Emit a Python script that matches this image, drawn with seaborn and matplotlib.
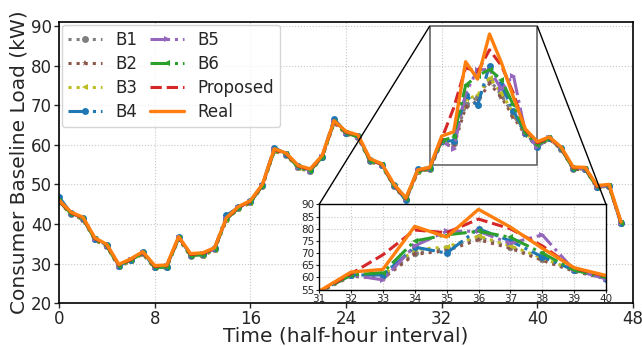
import matplotlib
matplotlib.use("Agg")
import matplotlib.pyplot as plt
import seaborn as sns
from mpl_toolkits.axes_grid1.inset_locator import mark_inset

# Half-hour slots of one day
slots = list(range(48))

# Load profiles (kW)
b1 = [45.7, 42.6, 41.3, 36.1, 34.4, 29.3, 30.8, 32.6, 29.0, 29.1, 36.4, 32.0,
      32.1, 33.6, 41.2, 44.0, 45.5, 49.6, 58.6, 57.5, 54.3, 53.4, 56.9, 65.7,
      62.9, 62.0, 56.0, 54.8, 49.7, 46.2, 53.3, 54.0, 61.0, 60.5, 70.0, 72.0,
      76.5, 72.5, 67.5, 63.0, 60.0, 61.6, 59.0, 54.0, 53.9, 49.3, 49.6, 40.2]
b2 = [45.5, 42.4, 41.1, 35.9, 34.2, 29.1, 30.6, 32.4, 28.8, 28.9, 36.2, 31.8,
      31.9, 33.4, 41.0, 43.8, 45.3, 49.4, 58.4, 57.3, 54.1, 53.2, 56.7, 65.5,
      62.7, 61.8, 55.8, 54.6, 49.5, 46.0, 53.1, 53.8, 60.5, 59.5, 69.5, 71.0,
      75.5, 72.0, 67.0, 62.5, 59.5, 61.4, 58.8, 53.8, 53.7, 49.1, 49.4, 40.0]
b3 = [45.6, 42.5, 41.2, 36.0, 34.3, 29.2, 30.7, 32.5, 28.9, 29.0, 36.3, 31.9,
      32.0, 33.5, 41.1, 43.9, 45.4, 49.5, 58.5, 57.4, 54.2, 53.3, 56.8, 65.6,
      62.8, 61.9, 55.9, 54.7, 49.6, 46.1, 53.2, 53.9, 61.0, 61.0, 71.5, 72.5,
      77.0, 73.0, 68.0, 63.0, 60.0, 61.5, 58.9, 53.9, 53.8, 49.2, 49.5, 40.1]
b4 = [46.8, 42.8, 41.5, 36.3, 34.6, 29.4, 31.0, 32.8, 29.0, 29.2, 36.6, 32.2,
      32.3, 33.8, 42.2, 44.2, 45.7, 49.8, 59.3, 57.7, 54.6, 53.6, 57.0, 66.6,
      63.1, 62.2, 56.2, 55.0, 49.8, 46.0, 53.9, 54.2, 61.0, 61.0, 72.5, 70.0,
      80.0, 75.0, 68.5, 63.0, 59.5, 61.8, 59.1, 54.1, 54.0, 49.4, 49.7, 40.3]
b5 = [45.8, 42.7, 41.4, 36.2, 34.5, 29.5, 31.0, 32.7, 29.1, 29.3, 36.5, 32.1,
      32.3, 33.7, 41.3, 44.1, 45.6, 49.7, 58.7, 57.6, 54.4, 53.5, 57.0, 65.8,
      63.0, 62.1, 56.1, 54.9, 49.8, 46.3, 53.4, 54.0, 61.0, 59.0, 73.0, 79.0,
      79.0, 74.0, 77.5, 63.0, 59.5, 61.7, 59.1, 54.1, 53.9, 49.4, 49.6, 40.2]
b6 = [45.7, 42.6, 41.3, 36.1, 34.4, 29.3, 30.9, 32.6, 29.0, 29.1, 36.4, 32.0,
      32.2, 33.6, 41.2, 44.0, 45.5, 49.6, 58.6, 57.6, 54.3, 53.4, 56.9, 65.8,
      63.0, 62.0, 56.0, 54.8, 49.7, 46.3, 53.3, 54.0, 61.0, 62.0, 75.0, 77.5,
      79.0, 76.5, 70.0, 63.0, 60.0, 61.6, 59.0, 54.0, 53.9, 49.3, 49.6, 40.2]
proposed = [45.8, 42.8, 41.5, 36.3, 34.6, 29.6, 31.0, 32.8, 29.3, 29.4, 36.6, 32.3,
            32.5, 33.8, 41.4, 44.2, 45.7, 49.8, 58.8, 57.7, 54.6, 53.7, 57.1, 65.9,
            63.2, 62.3, 56.3, 55.0, 49.9, 46.4, 53.5, 54.2, 61.5, 69.3, 79.5, 78.4,
            84.0, 80.0, 73.0, 63.8, 60.5, 61.8, 59.2, 54.2, 54.1, 49.5, 49.8, 40.3]
real = [46.0, 43.0, 41.7, 36.5, 34.8, 29.8, 31.2, 33.0, 29.5, 29.6, 36.8, 32.5,
        32.7, 34.0, 41.6, 44.4, 45.9, 50.0, 59.0, 57.9, 54.8, 53.9, 57.3, 66.1,
        63.4, 62.5, 56.5, 55.2, 50.1, 46.6, 53.7, 54.3, 62.2, 63.3, 81.0, 76.6,
        88.0, 80.7, 72.0, 64.0, 60.8, 62.0, 59.4, 54.4, 54.3, 49.7, 50.0, 40.5]

labels = ["B1", "B2", "B3", "B4", "B5", "B6", "Proposed", "Real"]
series = [b1, b2, b3, b4, b5, b6, proposed, real]

main_ticks = [0, 8, 16, 24, 32, 40, 48]
main_yticks = [20, 30, 40, 50, 60, 70, 80, 90]
zoom_ticks = [31, 32, 33, 34, 35, 36, 37, 38, 39, 40]
zoom_yticks = [55, 60, 65, 70, 75, 80, 85, 90]

styles = [
    dict(color="tab:gray", linestyle=":", marker="o", lw=2.2),
    dict(color="tab:brown", linestyle=":", marker="*", lw=2.2),
    dict(color="tab:olive", linestyle=":", marker="<", lw=2.2),
    dict(color="tab:blue", linestyle="-.", marker="o", lw=2.2),
    dict(color="tab:purple", linestyle="-.", marker=">", lw=2.2),
    dict(color="tab:green", linestyle="-.", marker="<", lw=2.2),
    dict(color="tab:red", linestyle="--", marker=None, lw=2.2),
    dict(color="tab:orange", linestyle="-", marker=None, lw=2.4),
]

sns.set_style("white")
plt.rcParams["font.family"] = ["DejaVu Sans"]

fig = plt.figure(figsize=(6.42, 3.46), dpi=100)
ax = fig.add_axes([0.092, 0.124, 0.894, 0.812])

for lab, vals, st in zip(labels, series, styles):
    sns.lineplot(x=slots, y=vals, ax=ax, label=lab, markersize=5,
                 markeredgewidth=0, **st)

ax.set_xlim(0, 48)
ax.set_ylim(20, 91)
ax.set_xticks(main_ticks)
ax.set_yticks(main_yticks)
ax.tick_params(axis="both", labelsize=12, length=3.5, width=1, direction="out",
               left=True, bottom=True, pad=1.5)
ax.grid(True, linestyle=":", color="0.78", lw=0.8)
for sp in ax.spines.values():
    sp.set_color("black")
    sp.set_linewidth(1.2)
ax.set_xlabel("Time (half-hour interval)", fontsize=14.5, labelpad=-1)
ax.set_ylabel("Consumer Baseline Load (kW)", fontsize=14.5, labelpad=2)

ax.legend(loc="upper left", ncol=2, fontsize=12, columnspacing=0.8,
          labelspacing=0.35, handlelength=2.0, handletextpad=0.8,
          borderaxespad=0.15, framealpha=0.8)

# zoomed view of the evening peak
axins = fig.add_axes([0.497, 0.163, 0.447, 0.246])
for vals, st in zip(series, styles):
    sns.lineplot(x=slots, y=vals, ax=axins, markersize=5,
                 markeredgewidth=0, legend=False, **st)
axins.set_xlim(31, 40)
axins.set_ylim(55, 90)
axins.set_xticks(zoom_ticks)
axins.set_yticks(zoom_yticks)
axins.tick_params(axis="both", labelsize=7.5, length=2.5, pad=1,
                  left=True, bottom=True)
axins.grid(True, linestyle=":", color="0.78", lw=0.8)
axins.set_xlabel("")
axins.set_ylabel("")
axins.set_facecolor("white")
for sp in axins.spines.values():
    sp.set_color("black")
    sp.set_linewidth(1.0)

rect, c1, c2 = mark_inset(ax, axins, loc1=2, loc2=1, fc="none", ec="black", lw=1)
rect.set_edgecolor("0.4")
rect.set_linewidth(1.2)

fig.savefig("out.png", dpi=100)
